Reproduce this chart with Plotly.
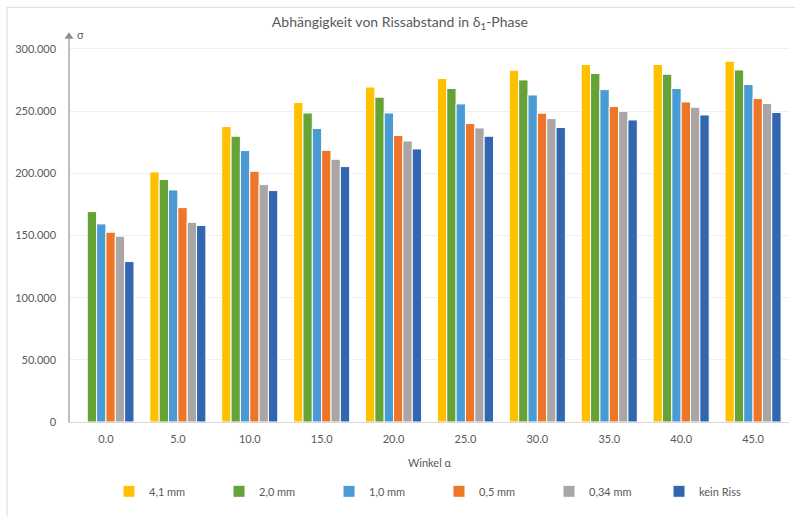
import plotly.graph_objects as go

categories = ["0.0", "5.0", "10.0", "15.0", "20.0", "25.0", "30.0", "35.0", "40.0", "45.0"]
series_names = ["4,1 mm", "2,0 mm", "1,0 mm", "0,5 mm", "0,34 mm", "kein Riss"]
s_41 = [None, 201100, 237600, 256900, 269400, 276200, 282900, 287500, 287500, 290100]
s_20 = [169200, 195000, 229800, 248500, 261200, 268200, 275100, 280200, 279700, 283100]
s_10 = [159300, 186600, 218300, 236000, 248500, 255800, 263000, 267300, 268200, 271400]
s_05 = [152600, 172400, 201600, 218500, 230400, 240000, 248300, 253700, 257400, 260100]
s_034 = [149400, 160600, 190900, 211300, 226000, 236500, 244000, 249900, 253100, 256100]
s_kein = [129000, 158000, 186100, 205400, 219600, 229800, 236800, 242900, 246900, 248900]
colors = ["#FFC000", "#66A336", "#4A9AD4", "#EE7628", "#A9A6A5", "#3366B0"]

series_values = [s_41, s_20, s_10, s_05, s_034, s_kein]

FONT = "Lato"
TXT = "#595959"

fig = go.Figure()
for name, vals, col in zip(series_names, series_values, colors):
    fig.add_trace(go.Bar(
        x=categories, y=vals, name=name,
        marker=dict(color=col, line=dict(color="white", width=1)),
    ))

W, H = 795, 516
L, R, T, B = 70, 6, 38.7, 94.3
pw, ph = W - L - R, H - T - B

def px(x):
    return (x - L) / pw

def py(y):
    return (H - B - y) / ph

fig.update_layout(
    width=W, height=H,
    margin=dict(l=L, r=R, t=T, b=B, pad=0, autoexpand=False),
    paper_bgcolor="white", plot_bgcolor="white",
    separators=",.",
    barmode="group", bargap=0.22, bargroupgap=0.0,
    font=dict(family=FONT, size=11, color=TXT),
    title=dict(text="Abhängigkeit von Rissabstand in δ<sub>1</sub>-Phase",
               x=0.503, xref="container", y=1 - 22 / H, yref="container",
               xanchor="center", yanchor="middle",
               font=dict(family=FONT, size=14, color=TXT)),
    xaxis=dict(
        showline=True, linecolor="#d9d9d9", linewidth=1,
        ticks="", showgrid=False,
        tickfont=dict(size=11, color=TXT),
        ticklabelstandoff=7,
        title=dict(text="Winkel α", standoff=15, font=dict(size=11, color=TXT)),
    ),
    yaxis=dict(
        range=[0, 308000], dtick=50000, tick0=0,
        tickformat=",.0f",
        showline=True, linecolor="#bfbfbf", linewidth=1.5,
        gridcolor="#efefef", gridwidth=1,
        zeroline=False, ticks="",
        tickfont=dict(size=11, color=TXT),
        ticklabelstandoff=10,
    ),
    legend=dict(
        orientation="h", x=px(109), xanchor="left",
        y=py(491), yanchor="middle",
        entrywidth=65, entrywidthmode="pixels",
        font=dict(size=11, color=TXT),
        itemwidth=30, traceorder="normal",
    ),
    showlegend=True,
)

shapes = [
    # axis arrow head
    dict(type="path", xref="paper", yref="paper",
         path=f"M {px(64.5)} {py(38.5)} L {px(73.5)} {py(38.5)} L {px(69)} {py(32)} Z",
         fillcolor="#8c8c8c", line=dict(width=0)),
    # chart frame (left and top)
    dict(type="line", xref="paper", yref="paper",
         x0=px(7), x1=px(7), y0=py(7), y1=py(530),
         line=dict(color="#d9d9d9", width=1)),
    dict(type="line", xref="paper", yref="paper",
         x0=px(7), x1=px(810), y0=py(7), y1=py(7),
         line=dict(color="#d9d9d9", width=1)),
]
fig.update_layout(shapes=shapes)

fig.add_annotation(text="σ", xref="paper", yref="paper",
                   x=px(75), y=py(34), xanchor="left", yanchor="middle",
                   showarrow=False, font=dict(size=11, color=TXT))

fig.write_html("out.html", config={"displayModeBar": False},
               post_script="document.body.style.margin='0';")
